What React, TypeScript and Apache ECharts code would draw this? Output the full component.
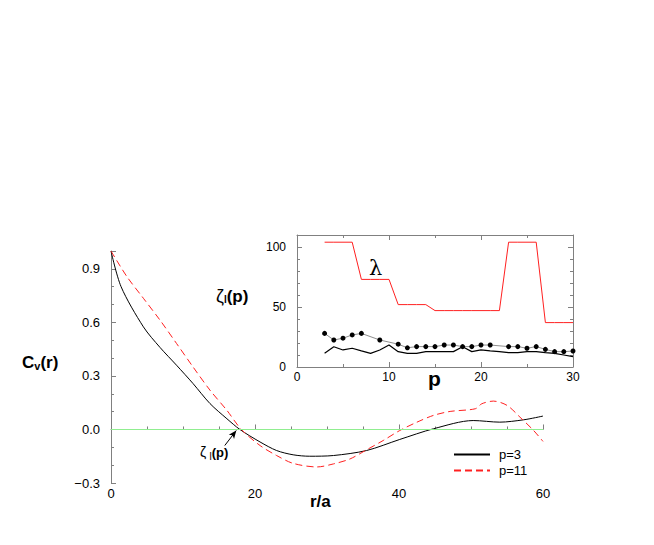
import React, { useEffect, useRef } from "react";
import * as echarts from "echarts";

// Main panel: correlation C_v(r) vs r/a
const p3Curve: [number, number][] = [
  [0, 1.0], [1.4, 0.8], [4.5, 0.575], [6.8, 0.46], [9.1, 0.36], [11.4, 0.257],
  [13.75, 0.145], [16.1, 0.06], [17.9, 0.0], [20.7, -0.07], [23, -0.118],
  [25.3, -0.142], [27.6, -0.15], [30.9, -0.146], [35.5, -0.118], [40.1, -0.056],
  [44.8, 0.004], [50.3, 0.05], [54, 0.041], [57.3, 0.054], [60, 0.075],
];
const p11Curve: [number, number][] = [
  [0, 1.0], [2.2, 0.857], [4.5, 0.735], [6.8, 0.613], [9.1, 0.482], [11.4, 0.35],
  [13.75, 0.22], [16.1, 0.107], [18.1, 0.0], [20.7, -0.09], [23, -0.146],
  [25.3, -0.19], [28.6, -0.21], [30.9, -0.193], [33.2, -0.165], [35.5, -0.114],
  [37.8, -0.062], [40.1, -0.006], [42.5, 0.041], [44.8, 0.079], [47.1, 0.101],
  [50.6, 0.116], [51.5, 0.144], [53.1, 0.159], [55, 0.135], [56.8, 0.069],
  [58.7, -0.006], [60, -0.067],
];
const mainXTicks = [0, 20, 40, 60];
const mainYTicks = [-0.3, 0.0, 0.3, 0.6, 0.9];

// Inset: zeta_l(p) vs p
const pValues = [3, 4, 5, 6, 7, 8, 9, 10, 11, 12, 13, 14, 15, 16, 17, 18, 19, 20, 21, 22, 23, 24, 25, 26, 27, 28, 29, 30];
const lambdaValues = [104, 104, 104, 104, 73, 73, 73, 73, 52, 52, 52, 52, 47, 47, 47, 47, 47, 47, 47, 47, 104, 104, 104, 104, 37, 37, 37, 37];
const dottedValues: (number | null)[] = [28, 22.5, 24, 26.7, 28, null, 22.5, null, 19, 16, 17, 17, 17, 18.3, 18.3, 17, 17, 18.3, 18.3, null, 17, 17, 15.6, 17, 14.7, 12.8, 12.8, 13.3];
const solidValues = [11.4, 16.9, 14.2, 15.6, 13.4, 11.4, 14.2, 18.3, 12.8, 11.4, 11.4, 12.8, 12.8, 12.8, 12.8, 16.9, 12.8, 14.2, 13.4, 12.8, 12, 12, 12.8, 12.8, 12, 11.4, 10, 8.6];
const insetXTicks = [0, 10, 20, 30];
const insetYTicks = [0, 50, 100];

const FONT = "Liberation Sans, Arial, Helvetica, sans-serif";
const AXIS_GRAY = "#808080";

export default function App() {
  const ref = useRef<HTMLDivElement>(null);
  useEffect(() => {
    if (!ref.current) return;
    const chart = echarts.init(ref.current, undefined, { renderer: "svg" });
    const pair = (vals: (number | null)[]) => pValues.map((p, i) => [p, vals[i]]);
    const fmtList = (list: number[], digits: number) => (v: number) =>
      list.some((t) => Math.abs(t - v) < 1e-6) ? v.toFixed(digits).replace("-", "\u2212") : "";

    const tickStyle = (len: number) => ({ show: true, inside: true, length: len, lineStyle: { color: AXIS_GRAY, width: 1 } });
    const minorStyle = (n: number) => ({ show: true, splitNumber: n, length: 3, lineStyle: { color: AXIS_GRAY, width: 1 } });
    const labelStyle = { color: "#000", fontSize: 12, fontFamily: FONT };

    const option: any = {
      animation: false,
      backgroundColor: "#fff",
      grid: [
        { left: 111, right: 111, top: 251, bottom: 62, show: false },
        { left: 297, right: 81, top: 235, bottom: 178, show: false },
      ],
      xAxis: [
        {
          type: "value", gridIndex: 0, min: 0, max: 60, interval: 20,
          axisLine: { show: true, lineStyle: { color: AXIS_GRAY } },
          axisTick: tickStyle(5), minorTick: minorStyle(4), splitLine: { show: false },
          axisLabel: { ...labelStyle, fontSize: 13, margin: 4, formatter: fmtList(mainXTicks, 0) },
        },
        {
          type: "value", gridIndex: 1, min: 0, max: 30, interval: 10,
          axisLine: { show: true, lineStyle: { color: AXIS_GRAY } },
          axisTick: tickStyle(5), minorTick: minorStyle(2), splitLine: { show: false },
          axisLabel: { ...labelStyle, margin: 4, formatter: fmtList(insetXTicks, 0) },
        },
        {
          type: "value", gridIndex: 1, min: 0, max: 30, interval: 10, position: "top",
          axisLine: { show: true, onZero: false, lineStyle: { color: AXIS_GRAY } },
          axisTick: tickStyle(5), minorTick: minorStyle(2), splitLine: { show: false },
          axisLabel: { show: false },
        },
      ],
      yAxis: [
        {
          type: "value", gridIndex: 0, min: -0.3, max: 1.0, interval: 0.3,
          axisLine: { show: true, onZero: false, lineStyle: { color: AXIS_GRAY } },
          axisTick: tickStyle(5), minorTick: minorStyle(3), splitLine: { show: false },
          axisLabel: { ...labelStyle, fontSize: 13, margin: 11, formatter: fmtList(mainYTicks, 1) },
        },
        {
          type: "value", gridIndex: 1, min: 0, max: 110, interval: 50,
          axisLine: { show: true, onZero: false, lineStyle: { color: AXIS_GRAY } },
          axisTick: tickStyle(5), minorTick: minorStyle(5), splitLine: { show: false },
          axisLabel: { ...labelStyle, margin: 11, formatter: fmtList(insetYTicks, 0) },
        },
        {
          type: "value", gridIndex: 1, min: 0, max: 110, interval: 50, position: "right",
          axisLine: { show: true, onZero: false, lineStyle: { color: AXIS_GRAY } },
          axisTick: tickStyle(5), minorTick: minorStyle(5), splitLine: { show: false },
          axisLabel: { show: false },
        },
      ],
      legend: {
        data: ["p=3", "p=11"],
        orient: "vertical",
        left: 448,
        top: 443,
        itemWidth: 36,
        itemHeight: 10,
        itemGap: 3,
        itemStyle: { opacity: 0 },
        textStyle: { color: "#000", fontSize: 13, fontFamily: FONT, padding: [0, 0, 0, 4] },
      },
      series: [
        {
          name: "zero", type: "line", xAxisIndex: 0, yAxisIndex: 0, data: [],
          silent: true,
          markLine: {
            silent: true, animation: false, label: { show: false },
            symbol: "none",
            data: [
              { yAxis: 0, lineStyle: { color: "#90ee90", width: 1, type: "solid" } },
              [
                { coord: [15.8, -0.09], symbol: "none", lineStyle: { color: "#000", width: 1, type: "solid" } },
                { coord: [17.4, -0.006], symbol: "arrow", symbolSize: [5, 8] },
              ],
            ],
          },
        },
        {
          name: "p=3", type: "line", xAxisIndex: 0, yAxisIndex: 0, data: p3Curve,
          smooth: 0.3, showSymbol: false, symbol: "none",
          lineStyle: { color: "#000", width: 1 }, itemStyle: { color: "#000" },
        },
        {
          name: "p=11", type: "line", xAxisIndex: 0, yAxisIndex: 0, data: p11Curve,
          smooth: 0.3, showSymbol: false, symbol: "none",
          lineStyle: { color: "#ff2020", width: 1, type: [7, 4] }, itemStyle: { color: "#ff2020" },
        },
        {
          name: "lambda", type: "line", xAxisIndex: 1, yAxisIndex: 1, data: pair(lambdaValues),
          symbol: "none", lineStyle: { color: "#ff2020", width: 1 },
        },
        {
          name: "dotted", type: "line", xAxisIndex: 1, yAxisIndex: 1, data: pair(dottedValues),
          connectNulls: true, symbol: "circle", symbolSize: 5, showAllSymbol: true,
          lineStyle: { color: "#707070", width: 0.8 }, itemStyle: { color: "#000" },
        },
        {
          name: "solid", type: "line", xAxisIndex: 1, yAxisIndex: 1, data: pair(solidValues),
          symbol: "none", lineStyle: { color: "#000", width: 1.2 },
        },
      ],
      graphic: [
        {
          type: "text", left: 22, top: 354,
          style: {
            text: "{b|C}{s|v}{b|(r)}",
            rich: {
              b: { fontSize: 17, fontWeight: "bold", fontFamily: FONT, fill: "#000" },
              s: { fontSize: 11, fontWeight: "bold", fontFamily: FONT, fill: "#000", padding: [7, 0, 0, 0] },
            },
          },
        },
        {
          type: "text", left: 310, top: 493,
          style: { text: "r/a", fontSize: 17, fontWeight: "bold", fontFamily: FONT, fill: "#000" },
        },
        {
          type: "text", left: 428, top: 368,
          style: { text: "p", fontSize: 21, fontWeight: "bold", fontFamily: FONT, fill: "#000" },
        },
        {
          type: "text", left: 216, top: 287,
          style: {
            text: "{g|ζ}{s|l}{b|(p)}",
            rich: {
              g: { fontSize: 18, fontFamily: FONT, fill: "#000" },
              s: { fontSize: 10, fontWeight: "bold", fontFamily: FONT, fill: "#000", padding: [7, 0, 0, 0] },
              b: { fontSize: 17, fontWeight: "bold", fontFamily: FONT, fill: "#000" },
            },
          },
        },
        {
          type: "text", left: 369, top: 257,
          style: { text: "λ", fontSize: 21, fontFamily: "DejaVu Serif, serif", fill: "#000" },
        },
        {
          type: "text", left: 200, top: 445,
          style: {
            text: "{g|ζ} {s|l}{b|(p)}",
            rich: {
              g: { fontSize: 14, fontFamily: FONT, fill: "#000" },
              s: { fontSize: 10, fontFamily: FONT, fill: "#000", padding: [9, 0, 0, 0] },
              b: { fontSize: 13, fontWeight: "bold", fontFamily: FONT, fill: "#000" },
            },
          },
        },
      ],
    };
    chart.setOption(option);
    return () => chart.dispose();
  }, []);
  return (
    <div
      ref={ref}
      style={{ position: "absolute", left: 0, top: 0, width: 654, height: 545, background: "#fff" }}
    />
  );
}
